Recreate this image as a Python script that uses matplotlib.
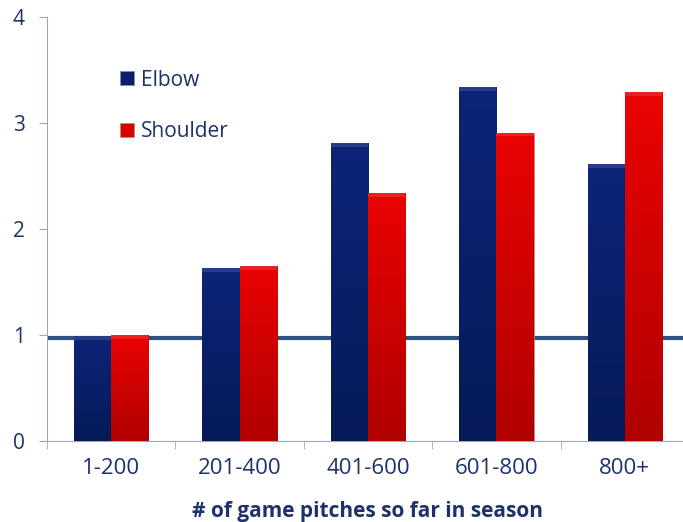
import matplotlib
matplotlib.use("Agg")
import matplotlib.pyplot as plt
import numpy as np
from matplotlib.colors import LinearSegmentedColormap

categories = ["1-200", "201-400", "401-600", "601-800", "800+"]
elbow = [0.99, 1.63, 2.81, 3.34, 2.61]
shoulder = [1.0, 1.65, 2.34, 2.91, 3.29]
baseline = 0.97
yticks = [0, 1, 2, 3, 4]

text_color = "#1B326A"
plt.rcParams['font.family'] = ['Open Sans', 'DejaVu Sans']

fig = plt.figure(figsize=(6.83, 5.22), dpi=100)
ax = fig.add_axes([47/683, 81/522, 642/683, 424/522])

x = np.arange(len(categories))
w = 0.29
b1 = ax.bar(x - w/2, elbow, w, color="#0A1F6B", edgecolor="#8090b0", linewidth=0.5, label="Elbow", zorder=3)
b2 = ax.bar(x + w/2, shoulder, w, color="#D80000", edgecolor="#b09090", linewidth=0.5, label="Shoulder", zorder=3)

# gradient fill (lighter at top, darker at bottom)
grad = np.linspace(0, 1, 256).reshape(-1, 1)
cm_blue = LinearSegmentedColormap.from_list("b", ["#0D2478", "#061A58"])
cm_red = LinearSegmentedColormap.from_list("r", ["#EA0303", "#B00000"])
for bars, cm in ((b1, cm_blue), (b2, cm_red)):
    for r in bars:
        x0, y0 = r.get_x(), r.get_y()
        ww, hh = r.get_width(), r.get_height()
        im = ax.imshow(grad, cmap=cm, aspect="auto", extent=[x0, x0+ww, y0, y0+hh], zorder=3.5, origin="upper")
        im.set_clip_path(r)
        ax.fill_between([x0, x0+ww], y0+hh-0.035, y0+hh, color="white", alpha=0.12, zorder=3.6, linewidth=0)

ax.axhline(baseline, color="#2C5282", linewidth=3, zorder=2)

ax.set_xlim(-0.5, 4.5)
ax.set_ylim(0, 4)
ax.set_yticks(yticks)
ax.set_yticklabels([str(t) for t in yticks], fontsize=15, color=text_color)
ax.set_xticks(x)
ax.set_xticklabels(categories, fontsize=16, color=text_color)
ax.set_xticks(np.arange(-0.5, 5, 1), minor=True)
ax.tick_params(axis="x", which="major", length=0, pad=12)
ax.tick_params(axis="x", which="minor", length=6, color="#A0A6B8", direction="out")
ax.tick_params(axis="y", length=6, color="#A0A6B8", pad=10)
for s in ["top", "right"]:
    ax.spines[s].set_visible(False)
ax.spines["left"].set_color("#A0A6B8")
ax.spines["bottom"].set_color("#A0A6B8")
ax.set_xlabel("# of game pitches so far in season", fontsize=15, fontweight="bold", color=text_color, labelpad=16)

leg = ax.legend(loc="upper left", bbox_to_anchor=(0.085, 0.92), frameon=False, fontsize=15,
                labelcolor=text_color, handlelength=0.65, handleheight=0.65, labelspacing=1.45, handletextpad=0.35)

fig.savefig("out.png", dpi=100)
